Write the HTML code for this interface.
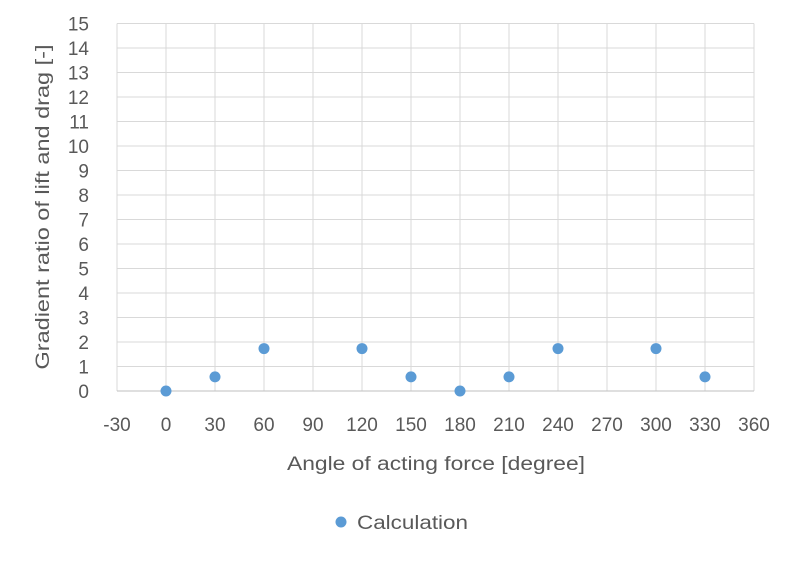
<!DOCTYPE html>
<html><head><meta charset="utf-8"><style>
body{margin:0;background:#fff;}
svg text{font-family:"Liberation Sans",sans-serif;fill:#595959;}
</style></head><body>
<svg id="chart" width="796" height="557" xmlns="http://www.w3.org/2000/svg">
<g id="grid"></g>
<g id="axes"></g>
<g id="points"></g>
<text x="436" y="470" font-size="19" text-anchor="middle" textLength="298" lengthAdjust="spacingAndGlyphs">Angle of acting force [degree]</text>
<text transform="translate(49,207) rotate(-90)" font-size="19" text-anchor="middle" textLength="325" lengthAdjust="spacingAndGlyphs">Gradient ratio of lift and drag [-]</text>
<g>
<circle cx="341" cy="522" r="5.5" fill="#5b9bd5"/>
<text x="357" y="529" font-size="19" textLength="111" lengthAdjust="spacingAndGlyphs">Calculation</text>
</g>
</svg>
<script>
const angles=[0,30,60,120,150,180,210,240,300,330];
const ratios=[0,0.577,1.732,1.732,0.577,0,0.577,1.732,1.732,0.577];
const xTicks=[-30,0,30,60,90,120,150,180,210,240,270,300,330,360];
const yTicks=[0,1,2,3,4,5,6,7,8,9,10,11,12,13,14,15];
const NS="http://www.w3.org/2000/svg";
const x0=117,x1=754,y0=391,y1=23.5;
const xs=v=>x0+(v+30)/390*(x1-x0);
const ys=v=>y0-v/15*(y0-y1);
function mk(t,a,p){const e=document.createElementNS(NS,t);for(const k in a)e.setAttribute(k,a[k]);p.appendChild(e);return e;}
const g=document.getElementById('grid'),ax=document.getElementById('axes'),pt=document.getElementById('points');
xTicks.forEach(v=>{
 const l=mk('line',{x1:xs(v),x2:xs(v),y1:y1,y2:y0,stroke:'#d9d9d9','stroke-width':1},g);
 
 
 const t=mk('text',{x:xs(v),y:431,'font-size':19,'text-anchor':'middle'},ax);t.textContent=v;
 
 
});
yTicks.forEach(v=>{
 const l=mk('line',{x1:x0,x2:x1,y1:ys(v),y2:ys(v),stroke:v===0?'#bfbfbf':'#d9d9d9','stroke-width':1},g);
 
 
 const t=mk('text',{x:89,y:ys(v)+7,'font-size':19,'text-anchor':'end'},ax);t.textContent=v;
 
 
});
angles.forEach((a,i)=>{
 const c=mk('circle',{cx:xs(a),cy:ys(ratios[i]),r:5.5,fill:'#5b9bd5'},pt);
 
 
});
</script>
</body></html>
